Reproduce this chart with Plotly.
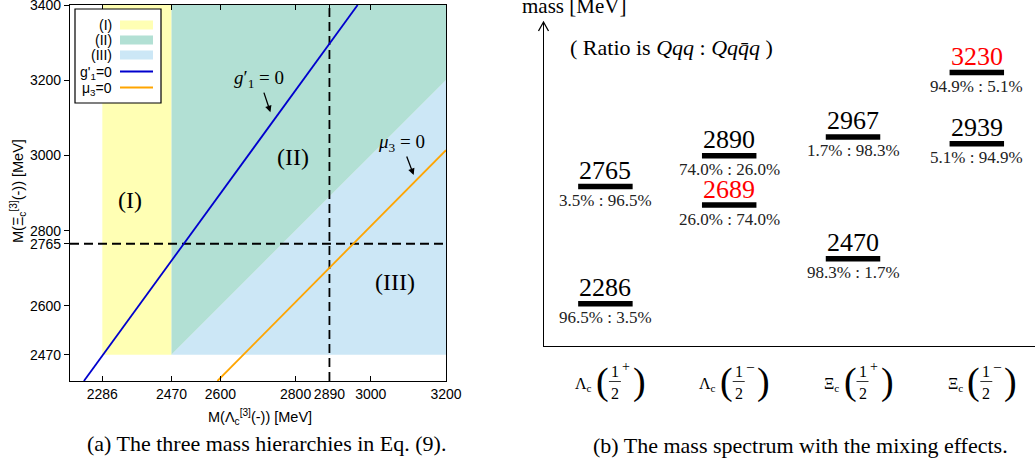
import plotly.graph_objects as go

# ---------------- panel (a) data ----------------
x_ticks = [2286, 2470, 2600, 2800, 2890, 3000, 3200]
y_ticks = [2470, 2600, 2765, 2800, 3000, 3200, 3400]
x_range = [2200, 3200]
y_range = [2400, 3400]
lam_ref = 2890          # dashed vertical line
xi_ref = 2765           # dashed horizontal line
region_I_x = [2286, 2470, 2470, 2286]
region_I_y = [2470, 2470, 3400, 3400]
region_II_x = [2470, 3200, 3200, 2470]
region_II_y = [2470, 3200, 3400, 3400]
region_III_x = [2470, 3200, 3200]
region_III_y = [2470, 2470, 3200]
g1_line_x = [2237, 2965]
g1_line_y = [2400, 3400]
mu3_line_x = [2592, 3200]
mu3_line_y = [2400, 3014]
region_labels = ["(I)", "(II)", "(III)"]
region_label_x = [2360, 2793, 3064]
region_label_y = [2881, 2996, 2663]

# ---------------- panel (b) data ----------------
col_index = [0, 0, 1, 1, 2, 2, 3, 3]
masses = [2286, 2765, 2689, 2890, 2470, 2967, 2939, 3230]
ratios = ["96.5% : 3.5%", "3.5% : 96.5%", "26.0% : 74.0%", "74.0% : 26.0%",
          "98.3% : 1.7%", "1.7% : 98.3%", "5.1% : 94.9%", "94.9% : 5.1%"]
highlight = [False, False, True, False, False, False, False, True]
cat_base = ["Λ", "Λ", "Ξ", "Ξ"]
cat_parity = ["+", "–", "+", "–"]
b_x_range = [-0.5, 3.47]
b_y_range = [2114, 3436]

W, H = 1035, 466
def px(x):
    return x / W
def py(y):
    return 1 - y / H

SANS = "Liberation Sans"
SERIF = "Liberation Serif"
YELLOW = "rgb(255,255,180)"
GREEN = "rgb(178,224,212)"
LBLUE = "rgb(204,231,246)"
BLUE = "rgb(0,0,205)"
ORANGE = "rgb(255,165,0)"

fig = go.Figure()

# regions
for xs, ys, col in [(region_I_x, region_I_y, YELLOW),
                    (region_II_x, region_II_y, GREEN),
                    (region_III_x, region_III_y, LBLUE)]:
    fig.add_trace(go.Scatter(x=xs, y=ys, fill="toself", fillcolor=col, mode="lines",
                             line=dict(width=0), showlegend=False, hoverinfo="skip",
                             xaxis="x", yaxis="y"))
# dashed reference lines
fig.add_trace(go.Scatter(x=[lam_ref, lam_ref], y=y_range, mode="lines",
                         line=dict(color="black", width=1.8, dash="9px,5px"),
                         showlegend=False, xaxis="x", yaxis="y"))
fig.add_trace(go.Scatter(x=x_range, y=[xi_ref, xi_ref], mode="lines",
                         line=dict(color="black", width=1.8, dash="9px,5px"),
                         showlegend=False, xaxis="x", yaxis="y"))
# g1 and mu3 lines
fig.add_trace(go.Scatter(x=g1_line_x, y=g1_line_y, mode="lines",
                         line=dict(color=BLUE, width=1.8), showlegend=False,
                         xaxis="x", yaxis="y"))
fig.add_trace(go.Scatter(x=mu3_line_x, y=mu3_line_y, mode="lines",
                         line=dict(color=ORANGE, width=1.8), showlegend=False,
                         xaxis="x", yaxis="y"))

# ---------------- panel (b) bars ----------------
half = 0.22
bx, by = [], []
for c, m in zip(col_index, masses):
    bx += [c - half, c + half, None]
    by += [m, m, None]
fig.add_trace(go.Scatter(x=bx, y=by, mode="lines", line=dict(color="black", width=5.5),
                         showlegend=False, xaxis="x2", yaxis="y2"))

ann = []
for c, m, r, h in zip(col_index, masses, ratios, highlight):
    ann.append(dict(x=c, y=m, xref="x2", yref="y2", text=str(m), showarrow=False,
                    yshift=16, font=dict(family=SERIF, size=26,
                                         color="red" if h else "black")))
    ann.append(dict(x=c, y=m, xref="x2", yref="y2", text=r, showarrow=False,
                    yshift=-14, font=dict(family=SERIF, size=17, color="#222")))

# category labels
shapes = []
for c, (base, par) in enumerate(zip(cat_base, cat_parity)):
    common = dict(x=c, xref="x2", yref="paper", showarrow=False)
    ann.append(dict(common, xshift=-21.5, y=py(384), text=base + "<sub>c</sub>",
                    font=dict(family=SERIF, size=16)))
    ann.append(dict(common, xshift=-3, y=py(381), text="(",
                    font=dict(family=SERIF, size=38)))
    ann.append(dict(common, xshift=34, y=py(381), text=")",
                    font=dict(family=SERIF, size=38)))
    ann.append(dict(common, xshift=9.5, y=py(371), text="1",
                    font=dict(family=SERIF, size=16)))
    ann.append(dict(common, xshift=9.5, y=py(393), text="2",
                    font=dict(family=SERIF, size=16)))
    ann.append(dict(common, xshift=21, y=py(366), text=par,
                    font=dict(family=SERIF, size=14)))
    shapes.append(dict(type="line", xref="x2", xsizemode="pixel", xanchor=c,
                       x0=3.5, x1=15.5, yref="paper", y0=py(381.5), y1=py(381.5),
                       line=dict(color="black", width=0.8)))

# arrow head of mass axis
shapes.append(dict(type="path", xref="paper", yref="paper", xsizemode="pixel",
                   ysizemode="pixel", xanchor=px(543.5), yanchor=py(22),
                   path="M-5,-9 L0,0 L5,-9", line=dict(color="black", width=1.3)))

ann.append(dict(x=px(574), y=py(6), xref="paper", yref="paper", showarrow=False,
                text="mass [MeV]", font=dict(family=SERIF, size=21)))
ann.append(dict(x=px(671), y=py(48), xref="paper", yref="paper", showarrow=False,
                text="( Ratio is <i>Qqq</i> : <i>Qqq̄q</i> )",
                font=dict(family=SERIF, size=22)))

# ---------------- panel (a) annotations ----------------
for t, x, y in zip(region_labels, region_label_x, region_label_y):
    ann.append(dict(x=x, y=y, xref="x", yref="y", text=t, showarrow=False,
                    font=dict(family=SERIF, size=24)))
ann.append(dict(x=2733, y=3115, xref="x", yref="y", text="<i>g</i>′<sub>1</sub> = 0",
                showarrow=True, ax=-11, ay=-33, arrowhead=2, arrowsize=1, arrowwidth=1.3,
                arrowcolor="black", standoff=0, font=dict(family=SERIF, size=19)))
ann.append(dict(x=3114, y=2948, xref="x", yref="y", text="<i>μ</i><sub>3</sub> = 0",
                showarrow=True, ax=-12, ay=-32, arrowhead=2, arrowsize=1, arrowwidth=1.3,
                arrowcolor="black", standoff=0, font=dict(family=SERIF, size=19)))

# axis titles
ann.append(dict(x=px(260), y=py(417), xref="paper", yref="paper", showarrow=False,
                text="M(Λ<sub>c</sub><sup>[3]</sup>(-)) [MeV]", font=dict(family=SANS, size=14.5)))
ann.append(dict(x=px(18), y=py(191), xref="paper", yref="paper", showarrow=False,
                textangle=-90, text="M(Ξ<sub>c</sub><sup>[3]</sup>(-)) [MeV]",
                font=dict(family=SANS, size=14.5)))
# captions
ann.append(dict(x=px(266), y=py(443), xref="paper", yref="paper", showarrow=False,
                text="(a) The three mass hierarchies in Eq. (9).",
                font=dict(family=SERIF, size=22)))
ann.append(dict(x=px(800), y=py(445), xref="paper", yref="paper", showarrow=False,
                text="(b) The mass spectrum with the mixing effects.",
                font=dict(family=SERIF, size=22)))

# custom legend for panel (a)
shapes.append(dict(type="rect", xref="paper", yref="paper", x0=px(75), x1=px(161),
                   y0=py(103), y1=py(9), fillcolor="white",
                   line=dict(color="black", width=1.2)))
leg_labels = ["(I)", "(II)", "(III)", "g'<sub>1</sub>=0", "μ<sub>3</sub>=0"]
leg_y = [25, 40, 55, 71.5, 87.5]
leg_colors = [YELLOW, GREEN, LBLUE, BLUE, ORANGE]
for i, (lab, yy, col) in enumerate(zip(leg_labels, leg_y, leg_colors)):
    ann.append(dict(x=px(114), y=py(yy + (1.5 if i >= 3 else 0)), xref="paper", yref="paper",
                    xanchor="right", showarrow=False, text=lab,
                    font=dict(family=SANS, size=14)))
    if i < 3:
        shapes.append(dict(type="rect", xref="paper", yref="paper", x0=px(120), x1=px(153),
                           y0=py(yy + 4.5), y1=py(yy - 4.5), fillcolor=col,
                           line=dict(width=0)))
    else:
        shapes.append(dict(type="line", xref="paper", yref="paper", x0=px(120), x1=px(153),
                           y0=py(yy), y1=py(yy), line=dict(color=col, width=2)))

for a in ann:
    a.setdefault("xanchor", "center")
    a.setdefault("yanchor", "middle")

axis_common = dict(showgrid=False, zeroline=False, linecolor="black", linewidth=1.3,
                   tickcolor="black", tickangle=0, ticklabeloverflow="allow",
                   automargin=False,
                   tickfont=dict(family=SANS, size=14, color="black"))
plain_axis = dict(showgrid=False, zeroline=False, showline=True, linecolor="black",
                  linewidth=1.3, showticklabels=False, ticks="", automargin=False)
fig.update_layout(
    width=W, height=H, margin=dict(l=0, r=0, t=0, b=0, autoexpand=False),
    paper_bgcolor="white", plot_bgcolor="rgba(0,0,0,0)",
    font=dict(family=SERIF, color="black"),
    showlegend=False,
    xaxis=dict(axis_common, domain=[px(70), px(446)], range=x_range, tickvals=x_ticks,
               ticks="inside", ticklen=5, showline=True, mirror="ticks", anchor="y"),
    yaxis=dict(axis_common, domain=[py(381), py(5)], range=y_range, tickvals=y_ticks,
               ticks="outside", ticklen=5, showline=True, mirror=True, anchor="x"),
    yaxis3=dict(axis_common, overlaying="y", side="right", range=y_range, tickvals=y_ticks,
                ticks="inside", ticklen=5, showticklabels=False, showline=False, anchor="x"),
    xaxis2=dict(plain_axis, domain=[px(543.5), 1.0], range=b_x_range, anchor="y2"),
    yaxis2=dict(plain_axis, domain=[py(346), py(22)], range=b_y_range, anchor="x2"),
    annotations=ann, shapes=shapes,
)

fig.write_html("out.html", config={"displayModeBar": False},
               post_script="document.body.style.margin='0';document.body.style.overflow='hidden';")
